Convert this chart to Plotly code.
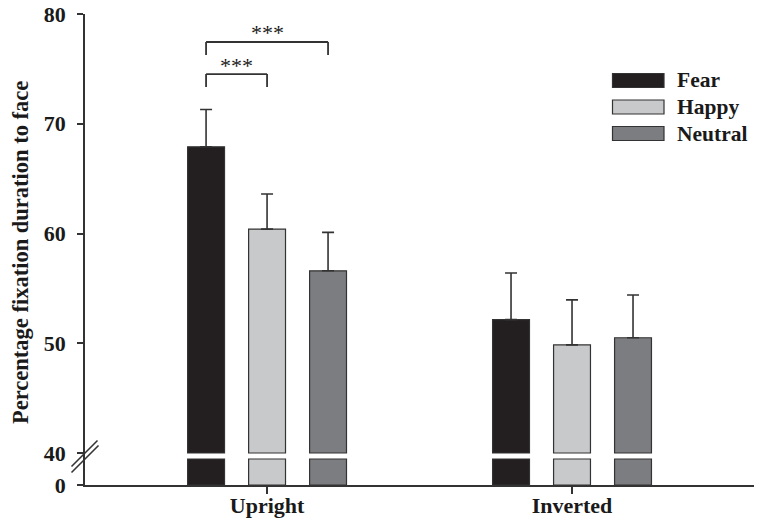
import plotly.graph_objects as go

# ---- data ----
conditions = ["Upright", "Inverted"]
emotions = ["Fear", "Happy", "Neutral"]
fear_mean = [67.9, 52.15]
happy_mean = [60.4, 49.85]
neutral_mean = [56.6, 50.5]
fear_err = [3.4, 4.25]
happy_err = [3.2, 4.1]
neutral_err = [3.5, 3.9]
ytick_labels = ["0", "40", "50", "60", "70", "80"]

means = [fear_mean, happy_mean, neutral_mean]
errs = [fear_err, happy_err, neutral_err]
colors = ["#231f20", "#c8c9cb", "#7c7d80"]

# ---- broken axis setup ----
BREAK_TOP = 40.0
PX_PER_UNIT = 10.975
Y_ZERO = BREAK_TOP - 32 / PX_PER_UNIT      # position representing 0
BREAK_LOW = BREAK_TOP - 6 / PX_PER_UNIT    # top of lower stub
YMAX = 80

FONT = "Liberation Serif"
INK = "#333333"
TXT = "#1a1a1a"

fig = go.Figure()
for emo, m, e, c in zip(emotions, means, errs, colors):
    # upper segment (from break to value)
    fig.add_trace(go.Bar(
        x=conditions, y=[v - BREAK_TOP for v in m], base=BREAK_TOP,
        name=emo, offsetgroup=emo, marker=dict(color=c, line=dict(color=INK, width=1.2)),
        error_y=dict(type="data", array=e, arrayminus=[0] * len(e), symmetric=False,
                     color=INK, thickness=1.6, width=6),
        showlegend=False,
    ))
    # lower stub (0 .. break)
    fig.add_trace(go.Bar(
        x=conditions, y=[BREAK_LOW - Y_ZERO] * len(conditions), base=Y_ZERO,
        name=emo, offsetgroup=emo, marker=dict(color=c, line=dict(color=INK, width=1.2)),
        showlegend=False, hoverinfo="skip",
    ))

# page places the figure 8px in from the window edge
OFF = 8
W, H = 762, 523
# plot area in window pixels: x 85..755, y 14..485
L = 85 - OFF
T = 14 - OFF
R = W - (755 - OFF)
B = H - (485 - OFF)
pw, ph = W - L - R, H - T - B


def px(x):
    return (x - OFF - L) / pw


def py(y):
    return (H - B - (y - OFF)) / ph


shapes = []
# break marks
for (x0, y0, x1, y1) in [(71.5, 466.5, 97.5, 440.5), (71.5, 472.5, 98.5, 445.5)]:
    shapes.append(dict(type="line", xref="paper", yref="paper",
                       x0=px(x0), y0=py(y0), x1=px(x1), y1=py(y1),
                       line=dict(color=INK, width=1.6)))

# significance brackets
def bracket(xa, xb, ytop, ylow):
    return [
        dict(type="line", xref="x", yref="y", x0=xa, x1=xa, y0=ylow, y1=ytop, line=dict(color=INK, width=1.8)),
        dict(type="line", xref="x", yref="y", x0=xa, x1=xb, y0=ytop, y1=ytop, line=dict(color=INK, width=1.8)),
        dict(type="line", xref="x", yref="y", x0=xb, x1=xb, y0=ylow, y1=ytop, line=dict(color=INK, width=1.8)),
    ]

shapes += bracket(-0.2, 0.2, 77.45, 76.27)
shapes += bracket(-0.2, 0.0, 74.53, 73.35)

annotations = [
    dict(text="***", x=0.0, y=78.3, xref="x", yref="y", showarrow=False,
         font=dict(family=FONT, size=22, color=TXT), yanchor="middle"),
    dict(text="***", x=-0.1, y=75.35, xref="x", yref="y", showarrow=False,
         font=dict(family=FONT, size=22, color=TXT), yanchor="middle"),
    dict(text="<b>Percentage fixation duration to face</b>", x=px(20), y=py(253),
         xref="paper", yref="paper", textangle=-90, showarrow=False,
         font=dict(family=FONT, size=22.5, color=TXT), xanchor="center", yanchor="middle"),
]

# manual legend
leg_tops = [73.5, 100, 126.5]
for emo, c, t in zip(emotions, colors, leg_tops):
    shapes.append(dict(type="rect", xref="paper", yref="paper",
                       x0=px(612.5), x1=px(664), y0=py(t), y1=py(t + 14),
                       fillcolor=c, line=dict(color=INK, width=1.2)))
    annotations.append(dict(text=f"<b>{emo}</b>", x=px(675), y=py(t + 7),
                            xref="paper", yref="paper", showarrow=False,
                            xanchor="left", yanchor="middle",
                            font=dict(family=FONT, size=21.5, color=TXT)))

fig.update_layout(
    width=W, height=H,
    margin=dict(l=L, r=R, t=T, b=B, autoexpand=False),
    plot_bgcolor="white", paper_bgcolor="white",
    barmode="group", bargap=0.4, bargroupgap=0.395,
    showlegend=False,
    shapes=shapes, annotations=annotations,
    xaxis=dict(type="category", range=[-0.597, 1.6], showline=True, linecolor=INK, linewidth=1.8,
               ticks="outside", ticklen=7, tickcolor=INK, tickwidth=1.5, automargin=False,
               tickfont=dict(family=FONT, size=22, color=TXT),
               ticktext=["<b>Upright</b>", "<b>Inverted</b>"], tickvals=conditions,
               ticklabelstandoff=-7, ticklabeloverflow="allow",
               showgrid=False, zeroline=False),
    yaxis=dict(range=[Y_ZERO, YMAX], showline=True, linecolor=INK, linewidth=1.8,
               ticks="outside", ticklen=6, tickcolor=INK, tickwidth=1.5, automargin=False,
               tickvals=[Y_ZERO, 40, 50, 60, 70, 80],
               ticktext=[f"<b>{t}</b>" for t in ytick_labels],
               tickfont=dict(family=FONT, size=22, color=TXT),
               ticklabelstandoff=7, ticklabeloverflow="allow",
               showgrid=False, zeroline=False),
)

fig.write_html("out.html")
